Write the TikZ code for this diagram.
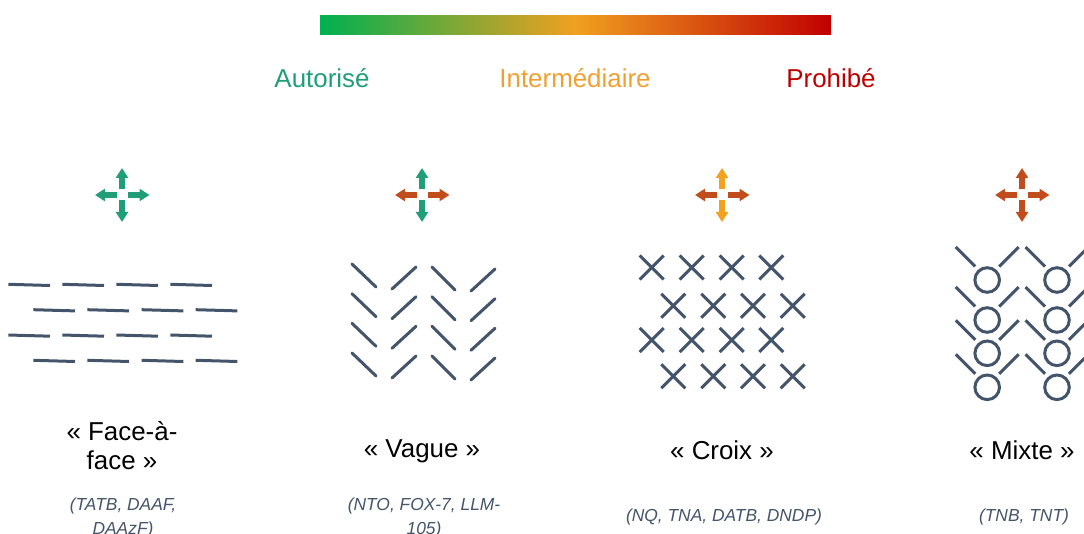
\documentclass[tikz,border=0pt]{standalone}
\usepackage{fontspec}
\setmainfont{Liberation Sans}
\usetikzlibrary{arrows.meta}
\definecolor{cgreen}{HTML}{00B050}
\definecolor{corange}{HTML}{F0A020}
\definecolor{cred}{HTML}{C00000}
\definecolor{cteal}{HTML}{1F9E78}
\definecolor{cbrown}{HTML}{C24D1C}
\definecolor{carrorange}{HTML}{F2A21E}
\definecolor{slate}{HTML}{44546A}
\definecolor{cinter}{HTML}{F0A030}
\newcommand\arrcross[3]{%
  \draw[arm,#2] (#1,189.5) -- (#1,168);
  \draw[arm,#2] (#1,200.5) -- (#1,222);
  \draw[arm,#3] (#1-5.5,195) -- (#1-27,195);
  \draw[arm,#3] (#1+5.5,195) -- (#1+27.5,195);
}
\begin{document}
\begin{tikzpicture}[x=1pt,y=-1pt,
  mol/.style={draw=slate,line width=3pt},
  arm/.style={line width=6pt,-{Triangle[width=12pt,length=10pt]}},
  head/.style={font=\fontsize{25.9}{30}\selectfont, anchor=base, inner sep=0pt},
  sub/.style={font=\fontsize{17.4}{20}\selectfont\itshape, text=slate, anchor=base, inner sep=0pt}]
\clip (0,0) rectangle (1084,534);
% colour scale
\shade[left color=cgreen, right color=cred, middle color=corange] (320,16) rectangle (831,35);
\node[head,text=cteal] (lab1) at (322,88) {Autorisé};
\node[head,text=cinter] (lab2) at (575,88) {Intermédiaire};
\node[head,text=cred] (lab3) at (831,88) {Prohibé};
% arrow crosses
\arrcross{122}{cteal}{cteal}
\arrcross{422}{cteal}{cbrown}
\arrcross{722}{carrorange}{cbrown}
\arrcross{1022}{cbrown}{cbrown}
% Face-a-face
\foreach \y in {284.3,335} \foreach \x in {8.3,62.3,116.3,170.3}
  \draw[mol] (\x,\y) -- (\x+41.7,\y+1.2);
\foreach \y in {309.7,360.3} \foreach \x in {33.3,87.3,141.7,195.7}
  \draw[mol] (\x,\y) -- (\x+41.7,\y+1.2);
% Vague
\foreach \y in {263,292.7,322.3,352} {
  \draw[mol,line cap=round] (352,\y+1) -- (376,\y+24);
  \draw[mol,line cap=round] (392,\y+26) -- (416,\y+4);
  \draw[mol,line cap=round] (432,\y+4) -- (455,\y+27);
  \draw[mol,line cap=round] (471,\y+28) -- (495,\y+6);
}
% Croix
\foreach \y in {267.5,340} \foreach \x in {651.7,691.7,731.7,771.3}
  \draw[mol] (\x-12,\y-12) -- (\x+12,\y+12) (\x-12,\y+12) -- (\x+12,\y-12);
\foreach \y in {305.8,376.3} \foreach \x in {673.3,713.3,753,792.7}
  \draw[mol] (\x-12,\y-12) -- (\x+12,\y+12) (\x-12,\y+12) -- (\x+12,\y-12);
% Mixte
\foreach \cy in {280,320,353.3,387.3} \foreach \cx in {987.2,1057} {
  \draw[mol] (\cx,\cy) circle[radius=12.3pt];
  \draw[mol] (\cx-31.5,\cy-33) -- (\cx-12,\cy-13.5);
  \draw[mol] (\cx+12,\cy-13.5) -- (\cx+31.5,\cy-33);
}
% titles
\node[head] (t1a) at (122,440) {« Face-à-};
\node[head] (t1b) at (122,469) {face »};
\node[head] (t2) at (422,457) {« Vague »};
\node[head] (t3) at (722,459) {« Croix »};
\node[head] (t4) at (1022,459) {« Mixte »};
% substances
\node[sub] (s1a) at (123,510) {(TATB, DAAF,};
\node[sub] (s1b) at (123,534) {DAAzF)};
\node[sub] (s2a) at (424,510) {(NTO, FOX-7, LLM-};
\node[sub] (s2b) at (424,534) {105)};
\node[sub] (s3) at (724,521) {(NQ, TNA, DATB, DNDP)};
\node[sub] (s4) at (1024,521) {(TNB, TNT)};
\end{tikzpicture}
\end{document}
